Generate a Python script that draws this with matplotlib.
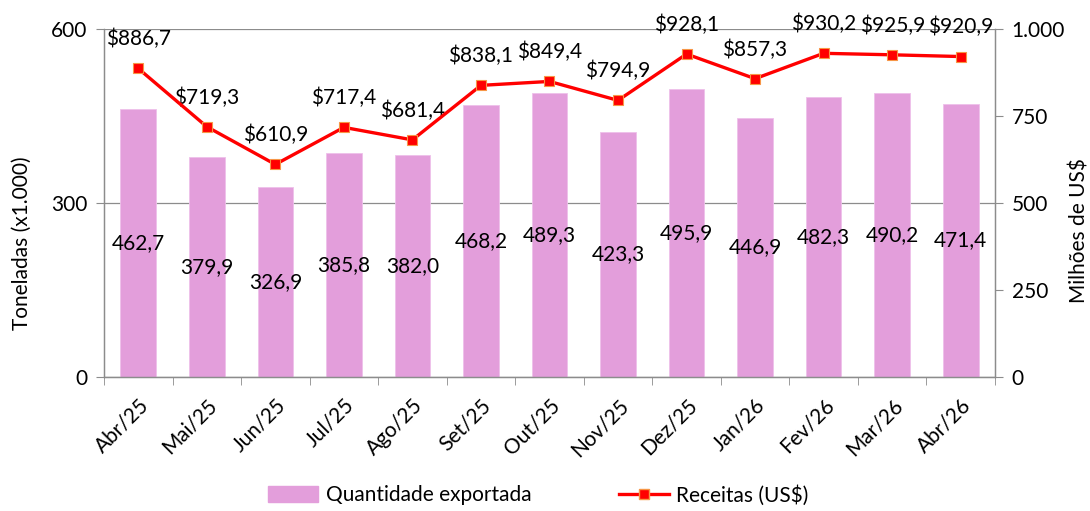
import matplotlib
matplotlib.use("Agg")
import matplotlib.pyplot as plt
import numpy as np
from matplotlib.lines import Line2D
from matplotlib.patches import Patch

plt.rcParams['font.family'] = ['Lato', 'DejaVu Sans']

months = ["Abr/25", "Mai/25", "Jun/25", "Jul/25", "Ago/25", "Set/25", "Out/25",
          "Nov/25", "Dez/25", "Jan/26", "Fev/26", "Mar/26", "Abr/26"]
quantidade = [462.7, 379.9, 326.9, 385.8, 382.0, 468.2, 489.3, 423.3, 495.9,
              446.9, 482.3, 490.2, 471.4]
receitas = [886.7, 719.3, 610.9, 717.4, 681.4, 838.1, 849.4, 794.9, 928.1,
            857.3, 930.2, 925.9, 920.9]

def fmt(v):
    return f"{v:.1f}".replace(".", ",")

FS = 15
W, H = 1090, 511
fig = plt.figure(figsize=(10.9, 5.11), dpi=100)
ax = fig.add_axes([0.0954, 0.2622, 0.8174, 0.681])
ax2 = ax.twinx()

x = np.arange(len(months))
bar_color = "#E39EDB"
ax.bar(x, quantidade, width=0.52, color=bar_color, edgecolor="#EEC0EA",
       linewidth=0.6, zorder=2)
for xi, v in zip(x, quantidade):
    ax.text(xi, v / 2, fmt(v), ha="center", va="center", fontsize=FS,
            color="black", zorder=5)

ax.set_xlim(-0.5, len(months) - 0.5)
ax.set_ylim(0, 600)
ax.set_yticks([0, 300, 600])
ax.set_yticklabels(["0", "300", "600"])
ax.grid(axis="y", color="#8C8C8C", linewidth=0.9, zorder=0)
ax.set_axisbelow(True)

ax2.plot(x, receitas, color="#FF0000", linewidth=2.4, marker="s",
         markersize=7, markerfacecolor="#FF0000", markeredgecolor="#F79646",
         markeredgewidth=0.8, zorder=4)
for xi, v in zip(x, receitas):
    ax2.annotate("$" + fmt(v), (xi, v), xytext=(0, 21), textcoords="offset points",
                 ha="center", va="center", fontsize=FS, color="black")
ax2.set_ylim(0, 1000)
ax2.set_yticks([0, 250, 500, 750, 1000])
ax2.set_yticklabels(["0", "250", "500", "750", "1.000"])

ax.set_xticks(x)
ax.set_xticklabels(months, rotation=45, ha="right", rotation_mode="anchor",
                   fontsize=FS)
ax.set_xticks(np.arange(-0.5, len(months), 1), minor=True)
ax.tick_params(axis="x", which="major", length=0, pad=13)
ax.tick_params(axis="x", which="minor", length=6, color="#8C8C8C", direction="out")
ax.tick_params(axis="y", length=6, color="#8C8C8C", labelsize=FS, pad=6)
ax2.tick_params(axis="y", length=6, color="#8C8C8C", labelsize=FS, pad=6)

for a in (ax, ax2):
    a.spines["top"].set_visible(False)
    for s in ("left", "right", "bottom"):
        a.spines[s].set_color("#8C8C8C")
        a.spines[s].set_linewidth(0.9)

fig.text(22 / W, 1 - 243 / H, "Toneladas (x1.000)", rotation=90,
         ha="center", va="center", fontsize=FS)
fig.text(1080 / W, 1 - 231 / H, "Milhões de US$", rotation=90,
         ha="center", va="center", fontsize=FS)

handles = [Patch(facecolor=bar_color, edgecolor=bar_color),
           Line2D([0], [0], color="#FF0000", linewidth=2.4, marker="s",
                  markersize=7, markerfacecolor="#FF0000", markeredgecolor="#F79646")]
fig.legend(handles, ["Quantidade exportada", "Receitas (US$)"],
           loc="center", bbox_to_anchor=(0.494, 0.031), ncol=2, frameon=False,
           fontsize=FS, columnspacing=4.2, handlelength=2.4, handleheight=0.8,
           handletextpad=0.35)

fig.savefig("out.png", dpi=100)
